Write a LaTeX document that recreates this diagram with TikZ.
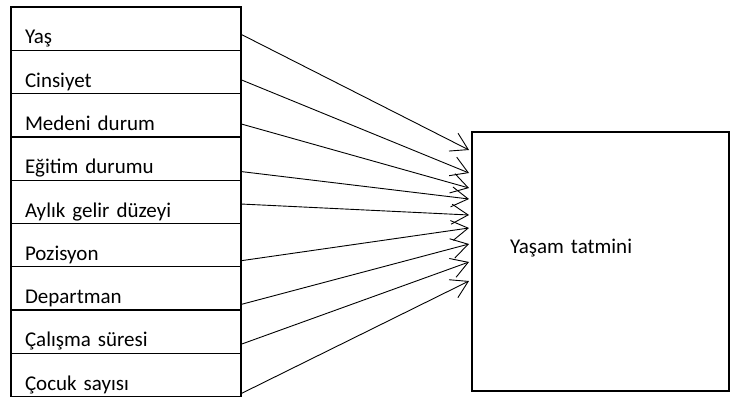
\documentclass[tikz,border=0pt]{standalone}
\usepackage{fontspec}
\setmainfont{Carlito}
\usetikzlibrary{arrows.meta,positioning,calc}

\begin{document}
\begin{tikzpicture}[x=1pt,y=-1pt,>={Straight Barb[length=16.5pt,width=20pt]},node distance=0pt,
        factor/.style={draw,line width=1.3pt,rectangle,outer sep=0pt,inner ysep=0pt,inner xsep=14pt,
            text width=202pt,align=left,text height=36.8pt,text depth=6.5pt,font=\fontsize{21}{25}\selectfont},
        outcome/.style={draw,line width=1.3pt,rectangle,outer sep=0pt,inner ysep=0pt,inner xsep=38pt,
            text width=181pt,align=left,text height=121pt,text depth=138pt,font=\fontsize{21}{25}\selectfont}]

            \useasboundingbox (0,0) rectangle (730,398);

            \node[factor] (age) at (11,7) [anchor=north west] {Yaş};

            \node[factor] (gender) [below=of age] {Cinsiyet};

            \node[factor] (marital) [below=of gender] {Medeni durum};

            \node[factor] (edu) [below=of marital] {Eğitim durumu};

            \node[factor] (income) [below=of edu] {Aylık gelir düzeyi};

            \node[factor] (pos) [below=of income] {Pozisyon};

            \node[factor] (dept) [below=of pos] {Departman};

            \node[factor] (tenure) [below=of dept] {Çalışma süresi};

            \node[factor] (kids) [below=of tenure] {Çocuk sayısı};

            \node[outcome] (sat) at (472,132) [anchor=north west] {Yaşam tatmini};

            

            \foreach \src/\fr/\dy in {age/0.63/18, gender/0.68/41, marital/0.70/56, edu/0.80/67,
                    income/0.55/83, pos/0.86/96, dept/0.87/112, tenure/0.79/130, kids/0.93/149}
                \draw[->,line width=0.9pt] ($(\src.north east)!\fr!(\src.south east)$) -- ($(sat.north west)+(-3,\dy)$);

        \end{tikzpicture}
\end{document}
